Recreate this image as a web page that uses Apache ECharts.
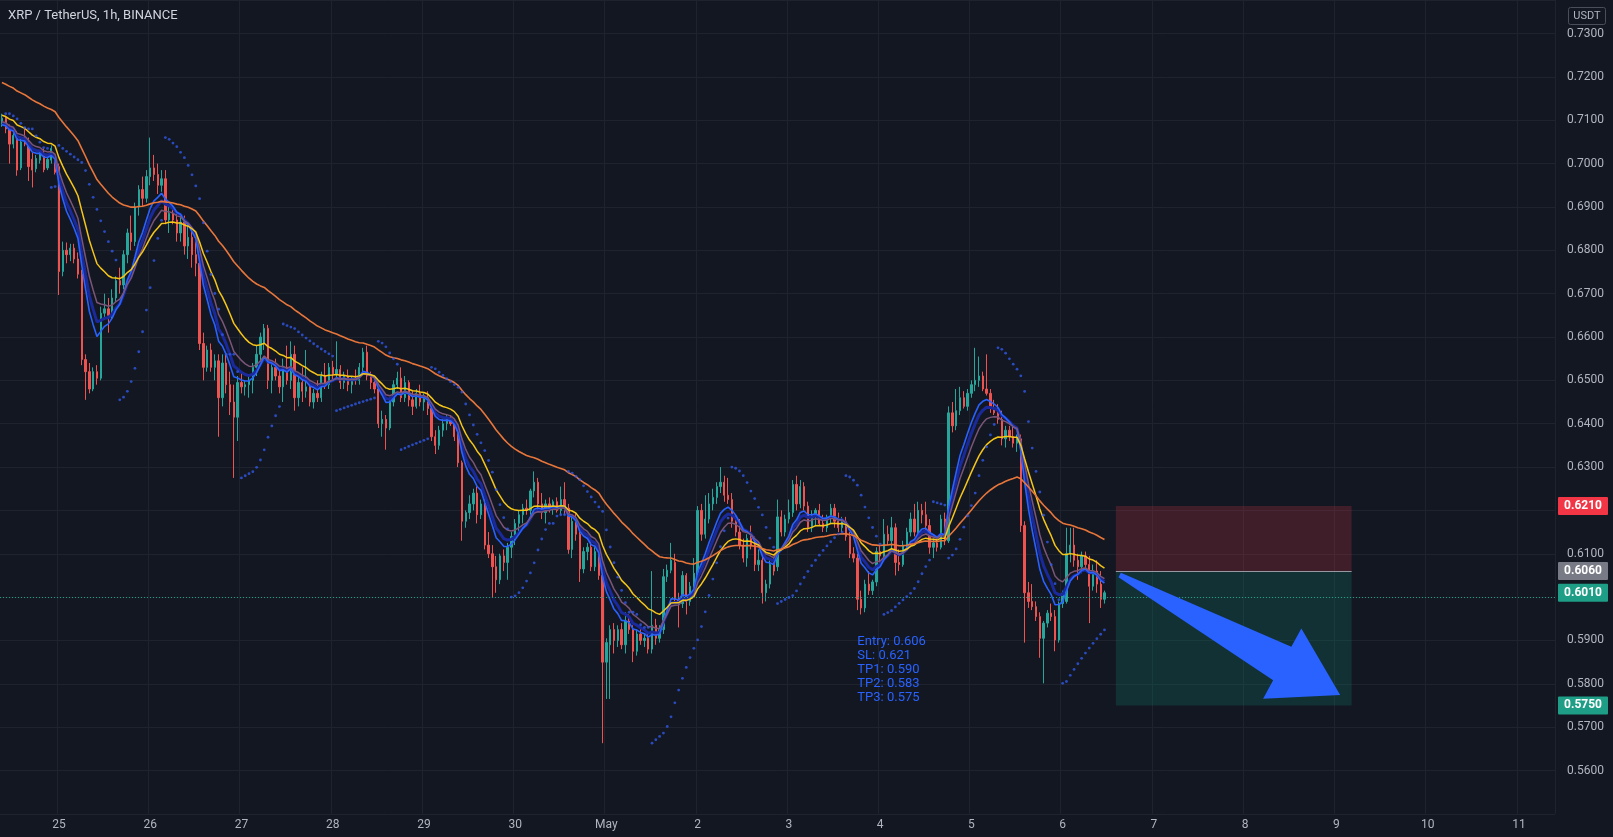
<!DOCTYPE html>
<html><head><meta charset="utf-8">
<script src="https://cdn.jsdelivr.net/npm/echarts@6/dist/echarts.min.js"></script>
<style>html,body{margin:0;padding:0;background:#131722;overflow:hidden}#c{width:1613px;height:837px}</style>
</head><body><div id="c"></div>
<script>
const chartTitle = 'XRP / TetherUS, 1h, BINANCE';
const dayLabels = ['25','26','27','28','29','30','May','2','3','4','5','6','7','8','9','10','11'];
const firstHour = 9;      // first candle: Apr 24, 09:00
const totalSlots = 409;   // hourly slots shown on the time scale
const priceMin = 0.55, priceMax = 0.73774, priceStep = 0.01;
// hourly candles [open, high, low, close]
const apr24 = [
[0.7090,0.7115,0.7085,0.7105],[0.7105,0.7110,0.7070,0.7080],[0.7080,0.7090,0.7000,0.7045],[0.7045,0.7075,0.7035,0.7065],
[0.7065,0.7075,0.6972,0.6985],[0.6990,0.7060,0.6985,0.7050],[0.7055,0.7080,0.7040,0.7045],[0.7045,0.7060,0.6960,0.6993],
[0.7010,0.7025,0.6945,0.6985],[0.6988,0.7020,0.6980,0.7012],[0.7008,0.7030,0.7000,0.7024],[0.7024,0.7035,0.6980,0.6986],
[0.6990,0.7015,0.6985,0.7010],[0.7008,0.7042,0.7000,0.7035],[0.7010,0.7020,0.6975,0.6980]];
const apr25 = [
[0.6993,0.7000,0.6697,0.6751],[0.6751,0.6820,0.6740,0.6800],[0.6800,0.6818,0.6770,0.6790],[0.6790,0.6815,0.6775,0.6805],
[0.6805,0.6815,0.6770,0.6780],[0.6780,0.6795,0.6735,0.6745],[0.6745,0.6755,0.6535,0.6548],[0.6548,0.6560,0.6455,0.6520],
[0.6520,0.6540,0.6470,0.6480],[0.6480,0.6530,0.6475,0.6520],[0.6520,0.6535,0.6490,0.6505],[0.6505,0.6670,0.6500,0.6655],
[0.6655,0.6700,0.6640,0.6665],[0.6665,0.6690,0.6610,0.6650],[0.6650,0.6710,0.6640,0.6690],[0.6690,0.6740,0.6680,0.6730],
[0.6730,0.6760,0.6700,0.6720],[0.6720,0.6800,0.6710,0.6790],[0.6790,0.6850,0.6770,0.6840],[0.6840,0.6880,0.6800,0.6820],
[0.6820,0.6910,0.6810,0.6900],[0.6900,0.6950,0.6880,0.6940],[0.6940,0.6970,0.6900,0.6920],[0.6920,0.6985,0.6910,0.6970]];
const apr26 = [
[0.6970,0.7060,0.6950,0.6990],[0.6990,0.7020,0.6960,0.6975],[0.6975,0.7000,0.6930,0.6950],[0.6950,0.6985,0.6935,0.6965],
[0.6965,0.6985,0.6860,0.6870],[0.6870,0.6900,0.6840,0.6885],[0.6885,0.6905,0.6860,0.6870],[0.6870,0.6890,0.6820,0.6840],
[0.6840,0.6880,0.6820,0.6865],[0.6865,0.6880,0.6790,0.6810],[0.6810,0.6860,0.6780,0.6830],[0.6830,0.6850,0.6760,0.6790],
[0.6790,0.6820,0.6740,0.6770],[0.6770,0.6790,0.6570,0.6585],[0.6585,0.6610,0.6500,0.6530],[0.6530,0.6580,0.6520,0.6570],
[0.6570,0.6585,0.6520,0.6530],[0.6530,0.6560,0.6500,0.6545],[0.6545,0.6560,0.6370,0.6460],[0.6460,0.6560,0.6440,0.6540],
[0.6540,0.6560,0.6470,0.6490],[0.6490,0.6520,0.6420,0.6450],[0.6450,0.6490,0.6275,0.6415],[0.6415,0.6510,0.6360,0.6495]];
const apr27 = [
[0.6495,0.6520,0.6470,0.6485],[0.6485,0.6500,0.6465,0.6490],[0.6490,0.6510,0.6460,0.6500],[0.6500,0.6540,0.6470,0.6530],
[0.6530,0.6580,0.6510,0.6560],[0.6560,0.6610,0.6540,0.6600],[0.6585,0.6630,0.6570,0.6620],[0.6620,0.6628,0.6480,0.6500],
[0.6500,0.6540,0.6470,0.6530],[0.6530,0.6550,0.6500,0.6510],[0.6510,0.6525,0.6470,0.6485],[0.6485,0.6550,0.6450,0.6530],
[0.6530,0.6580,0.6490,0.6500],[0.6500,0.6590,0.6480,0.6560],[0.6560,0.6580,0.6430,0.6460],[0.6460,0.6510,0.6440,0.6495],
[0.6495,0.6530,0.6450,0.6475],[0.6475,0.6570,0.6460,0.6485],[0.6485,0.6495,0.6440,0.6450],[0.6450,0.6480,0.6435,0.6470],
[0.6470,0.6500,0.6450,0.6460],[0.6460,0.6520,0.6450,0.6510],[0.6510,0.6540,0.6480,0.6490],[0.6490,0.6540,0.6480,0.6530]];
const apr28 = [
[0.6530,0.6545,0.6500,0.6515],[0.6515,0.6590,0.6505,0.6525],[0.6525,0.6535,0.6480,0.6495],[0.6495,0.6520,0.6480,0.6510],
[0.6510,0.6525,0.6475,0.6490],[0.6490,0.6510,0.6470,0.6505],[0.6505,0.6525,0.6490,0.6500],[0.6500,0.6540,0.6490,0.6530],
[0.6530,0.6575,0.6510,0.6565],[0.6565,0.6580,0.6500,0.6510],[0.6510,0.6520,0.6480,0.6495],[0.6495,0.6510,0.6470,0.6480],
[0.6480,0.6495,0.6390,0.6400],[0.6400,0.6430,0.6370,0.6410],[0.6410,0.6420,0.6340,0.6390],[0.6390,0.6460,0.6385,0.6450],
[0.6450,0.6500,0.6440,0.6490],[0.6490,0.6520,0.6480,0.6505],[0.6505,0.6530,0.6450,0.6460],[0.6460,0.6510,0.6450,0.6495],
[0.6495,0.6500,0.6440,0.6455],[0.6455,0.6475,0.6420,0.6440],[0.6440,0.6480,0.6435,0.6470],[0.6470,0.6490,0.6440,0.6450]];
const apr29 = [
[0.6450,0.6470,0.6430,0.6460],[0.6460,0.6475,0.6420,0.6435],[0.6435,0.6445,0.6360,0.6370],[0.6370,0.6385,0.6330,0.6350],
[0.6350,0.6395,0.6340,0.6385],[0.6385,0.6410,0.6370,0.6400],[0.6400,0.6420,0.6385,0.6410],[0.6410,0.6420,0.6395,0.6400],
[0.6400,0.6410,0.6360,0.6370],[0.6370,0.6380,0.6300,0.6310],[0.6310,0.6315,0.6130,0.6175],[0.6175,0.6200,0.6160,0.6195],
[0.6195,0.6235,0.6180,0.6215],[0.6215,0.6250,0.6200,0.6240],[0.6240,0.6255,0.6170,0.6190],[0.6190,0.6225,0.6180,0.6215],
[0.6215,0.6225,0.6110,0.6120],[0.6120,0.6150,0.6090,0.6100],[0.6100,0.6120,0.6000,0.6070],[0.6070,0.6095,0.6010,0.6040],
[0.6040,0.6100,0.6030,0.6095],[0.6095,0.6110,0.6060,0.6080],[0.6080,0.6125,0.6040,0.6115],[0.6115,0.6150,0.6090,0.6140]];
const apr30 = [
[0.6140,0.6180,0.6120,0.6170],[0.6170,0.6200,0.6150,0.6190],[0.6190,0.6215,0.6170,0.6205],[0.6205,0.6225,0.6190,0.6200],
[0.6200,0.6250,0.6190,0.6245],[0.6245,0.6290,0.6230,0.6265],[0.6265,0.6275,0.6200,0.6215],[0.6215,0.6240,0.6180,0.6195],
[0.6195,0.6225,0.6170,0.6215],[0.6215,0.6230,0.6195,0.6205],[0.6205,0.6225,0.6190,0.6220],[0.6220,0.6230,0.6195,0.6200],
[0.6200,0.6255,0.6190,0.6225],[0.6225,0.6265,0.6190,0.6205],[0.6205,0.6215,0.6100,0.6110],[0.6110,0.6190,0.6090,0.6175],
[0.6175,0.6195,0.6130,0.6145],[0.6145,0.6155,0.6035,0.6065],[0.6065,0.6115,0.6055,0.6105],[0.6105,0.6125,0.6085,0.6115],
[0.6115,0.6130,0.6060,0.6070],[0.6070,0.6115,0.6060,0.6105],[0.6105,0.6115,0.6040,0.6050],[0.6050,0.6060,0.5663,0.5850]];
const may1 = [
[0.5850,0.5905,0.5765,0.5895],[0.5890,0.5935,0.5765,0.5925],[0.5925,0.5940,0.5870,0.5900],[0.5900,0.5935,0.5885,0.5925],
[0.5925,0.5940,0.5880,0.5890],[0.5890,0.5965,0.5870,0.5945],[0.5945,0.5960,0.5915,0.5925],[0.5925,0.5935,0.5850,0.5875],
[0.5875,0.5925,0.5865,0.5915],[0.5915,0.5930,0.5890,0.5900],[0.5900,0.5915,0.5885,0.5905],[0.5905,0.5915,0.5870,0.5880],
[0.5880,0.6060,0.5870,0.5935],[0.5935,0.5950,0.5890,0.5905],[0.5905,0.5935,0.5895,0.5925],[0.5925,0.6065,0.5915,0.6047],
[0.6047,0.6075,0.6035,0.6062],[0.6062,0.6125,0.6055,0.6085],[0.6080,0.6100,0.5990,0.5995],[0.5995,0.6010,0.5930,0.5985],
[0.5985,0.6060,0.5975,0.6050],[0.6050,0.6055,0.5960,0.5990],[0.5990,0.6035,0.5980,0.6025],[0.6015,0.6090,0.6005,0.6055]];
const may2 = [
[0.6050,0.6210,0.6040,0.6200],[0.6200,0.6215,0.6130,0.6145],[0.6145,0.6235,0.6135,0.6180],[0.6180,0.6240,0.6170,0.6215],
[0.6215,0.6250,0.6200,0.6230],[0.6230,0.6265,0.6215,0.6255],[0.6255,0.6300,0.6240,0.6265],[0.6265,0.6280,0.6220,0.6235],
[0.6235,0.6275,0.6215,0.6225],[0.6225,0.6240,0.6160,0.6175],[0.6175,0.6190,0.6140,0.6150],[0.6150,0.6180,0.6110,0.6120],
[0.6120,0.6135,0.6080,0.6090],[0.6090,0.6145,0.6070,0.6135],[0.6135,0.6165,0.6110,0.6120],[0.6120,0.6140,0.6060,0.6075],
[0.6075,0.6110,0.6060,0.6085],[0.6085,0.6100,0.5985,0.6010],[0.6010,0.6040,0.5990,0.6030],[0.6030,0.6085,0.6020,0.6075],
[0.6075,0.6090,0.6050,0.6060],[0.6070,0.6225,0.6060,0.6185],[0.6185,0.6200,0.6140,0.6150],[0.6150,0.6190,0.6140,0.6180]];
const may3 = [
[0.6180,0.6225,0.6170,0.6195],[0.6195,0.6270,0.6185,0.6260],[0.6260,0.6280,0.6200,0.6215],[0.6215,0.6270,0.6205,0.6255],
[0.6255,0.6265,0.6200,0.6210],[0.6210,0.6220,0.6150,0.6160],[0.6160,0.6200,0.6150,0.6190],[0.6190,0.6205,0.6165,0.6200],
[0.6200,0.6215,0.6165,0.6170],[0.6170,0.6190,0.6150,0.6160],[0.6160,0.6190,0.6150,0.6185],[0.6185,0.6215,0.6170,0.6205],
[0.6205,0.6215,0.6160,0.6175],[0.6175,0.6195,0.6150,0.6160],[0.6160,0.6185,0.6150,0.6175],[0.6175,0.6185,0.6130,0.6140],
[0.6140,0.6150,0.6090,0.6100],[0.6100,0.6115,0.6080,0.6090],[0.6090,0.6100,0.5970,0.5995],[0.5995,0.6015,0.5960,0.5975],
[0.5975,0.6040,0.5965,0.6030],[0.6030,0.6060,0.6005,0.6015],[0.6015,0.6040,0.6005,0.6035],[0.6035,0.6115,0.6025,0.6105]];
const may4 = [
[0.6105,0.6120,0.6080,0.6095],[0.6095,0.6180,0.6085,0.6145],[0.6145,0.6165,0.6120,0.6130],[0.6130,0.6185,0.6110,0.6160],
[0.6160,0.6170,0.6050,0.6080],[0.6080,0.6110,0.6060,0.6075],[0.6075,0.6130,0.6070,0.6120],[0.6120,0.6160,0.6110,0.6150],
[0.6150,0.6195,0.6140,0.6180],[0.6180,0.6215,0.6140,0.6150],[0.6150,0.6220,0.6140,0.6200],[0.6200,0.6215,0.6170,0.6190],
[0.6190,0.6220,0.6150,0.6165],[0.6165,0.6180,0.6100,0.6115],[0.6115,0.6135,0.6090,0.6125],[0.6125,0.6140,0.6105,0.6115],
[0.6115,0.6190,0.6110,0.6180],[0.6180,0.6195,0.6120,0.6130],[0.6130,0.6440,0.6125,0.6425],[0.6425,0.6450,0.6380,0.6395],
[0.6395,0.6480,0.6385,0.6430],[0.6430,0.6485,0.6420,0.6460],[0.6460,0.6475,0.6435,0.6440],[0.6440,0.6480,0.6430,0.6470]];
const may5 = [
[0.6470,0.6500,0.6460,0.6490],[0.6490,0.6575,0.6475,0.6500],[0.6500,0.6555,0.6485,0.6510],[0.6510,0.6520,0.6475,0.6480],
[0.6480,0.6560,0.6465,0.6470],[0.6470,0.6480,0.6425,0.6435],[0.6435,0.6455,0.6420,0.6425],[0.6425,0.6445,0.6400,0.6410],
[0.6410,0.6430,0.6350,0.6365],[0.6365,0.6395,0.6345,0.6385],[0.6385,0.6395,0.6360,0.6370],[0.6370,0.6395,0.6345,0.6355],
[0.6355,0.6375,0.6335,0.6365],[0.6365,0.6375,0.6150,0.6165],[0.6165,0.6175,0.5895,0.6010],[0.6010,0.6035,0.5975,0.5990],
[0.5990,0.6030,0.5970,0.5978],[0.5978,0.5990,0.5945,0.5955],[0.5955,0.5965,0.5860,0.5905],[0.5905,0.5945,0.5801,0.5940],
[0.5940,0.5970,0.5930,0.5963],[0.5963,0.5985,0.5945,0.5955],[0.5955,0.5970,0.5875,0.5901],[0.5901,0.5990,0.5895,0.5985]];
const may6 = [
[0.5985,0.6015,0.5975,0.6009],[0.5990,0.6160,0.5985,0.6100],[0.6100,0.6160,0.6080,0.6120],[0.6120,0.6160,0.6070,0.6085],
[0.6085,0.6100,0.6040,0.6070],[0.6070,0.6105,0.6055,0.6095],[0.6095,0.6105,0.6060,0.6075],[0.6075,0.6095,0.5940,0.6025],
[0.6025,0.6075,0.6015,0.6060],[0.6060,0.6085,0.6010,0.6030],[0.6030,0.6060,0.5975,0.5995],[0.5995,0.6015,0.5985,0.6010]];

const lastPrice = 0.6010;
const tradeEntry = 0.606, tradeStop = 0.621, tradeTarget = 0.575;
const boxStart = 293, boxEnd = 355;           // slot indexes of the position box
const arrowFrom = [294, 0.6051], arrowTo = [352, 0.5774];
const noteLines = ['Entry: 0.606', 'SL: 0.621', 'TP1: 0.590', 'TP2: 0.583', 'TP3: 0.575'];
const noteAnchor = [225, 0.5897];
const emaPeriods = [10, 8, 13, 21, 55];
const emaSeeds   = [0.7090, 0.7085, 0.7095, 0.7112, 0.7190];
const emaColors  = ['#1a2a9c', '#2962ff', '#7a5578', '#f5c518', '#e8763a'];
const emaWidths  = [3, 1.6, 1.5, 1.5, 1.6];
const priceTags = [
  {v: tradeStop, c: '#f23645'}, {v: tradeEntry, c: '#787b86'},
  {v: lastPrice, c: '#1e9e86'}, {v: tradeTarget, c: '#1e9e86'}];

const ohlc = [].concat(apr24, apr25, apr26, apr27, apr28, apr29, apr30, may1, may2, may3, may4, may5, may6);
const n = ohlc.length;
const cats = Array.from({length: totalSlots}, (_, k) => String(k));
const candle = ohlc.map(d => [d[0], d[3], d[2], d[1]]);
const closes = ohlc.map(d => d[3]);
function ema(period, seed) {
  const a = 2 / (period + 1); let v = seed;
  return closes.map(c => { v = a * c + (1 - a) * v; return +v.toFixed(5); });
}
function psar() {
  const hi = ohlc.map(d => d[1]), lo = ohlc.map(d => d[2]);
  const out = [null];
  let bull = false, af = 0.02, ep = lo[0], sar = hi[0];
  for (let i = 1; i < n; i++) {
    sar = sar + af * (ep - sar);
    if (bull) {
      sar = Math.min(sar, lo[i - 1], lo[Math.max(0, i - 2)]);
      if (lo[i] < sar) { bull = false; sar = ep; ep = lo[i]; af = 0.02; }
      else if (hi[i] > ep) { ep = hi[i]; af = Math.min(af + 0.02, 0.2); }
    } else {
      sar = Math.max(sar, hi[i - 1], hi[Math.max(0, i - 2)]);
      if (hi[i] > sar) { bull = true; sar = ep; ep = hi[i]; af = 0.02; }
      else if (lo[i] < ep) { ep = lo[i]; af = Math.min(af + 0.02, 0.2); }
    }
    out.push(+sar.toFixed(5));
  }
  return out;
}
const isMidnight = idx => (firstHour + idx) % 24 === 0;
const FONT = 'Roboto, "Noto Sans", sans-serif';
const GRID = '#1f232e';

const chart = echarts.init(document.getElementById('c'), null, {renderer: 'canvas'});
const series = [{
  type: 'candlestick', data: candle, barWidth: '48%', z: 3,
  itemStyle: {color: '#26a69a', color0: '#ef5350', borderColor: '#26a69a', borderColor0: '#ef5350', borderWidth: 1},
  markLine: {
    silent: true, symbol: 'none', label: {show: false}, animation: false,
    data: [
      {yAxis: lastPrice, lineStyle: {color: '#1e9e86', type: [1, 2], width: 1}},
      [{coord: [String(boxStart), tradeEntry], lineStyle: {color: '#9598a1', type: 'solid', width: 1}},
       {coord: [String(boxEnd), tradeEntry]}]
    ]
  },
  markArea: {
    silent: true,
    data: [
      [{coord: [String(boxStart), tradeStop], itemStyle: {color: 'rgba(242,54,69,0.2)'}}, {coord: [String(boxEnd), tradeEntry]}],
      [{coord: [String(boxStart), tradeEntry], itemStyle: {color: 'rgba(8,153,129,0.2)'}}, {coord: [String(boxEnd), tradeTarget]}]
    ]
  }
}];
emaPeriods.forEach((p, k) => series.push({
  type: 'line', data: ema(p, emaSeeds[k]), showSymbol: false, symbol: 'none', z: 4 + k * 0.01,
  lineStyle: {color: emaColors[k], width: emaWidths[k]}
}));
series.push({type: 'scatter', data: psar(), symbol: 'circle', symbolSize: 2.8, z: 5,
  itemStyle: {color: '#3159e8'}});

chart.setOption({
  animation: false,
  backgroundColor: '#131722',
  grid: {left: 0, right: 58, top: 0, bottom: 23.15, containLabel: false},
  xAxis: {
    type: 'category', data: cats, boundaryGap: true,
    axisLine: {show: false}, axisTick: {show: false},
    axisLabel: {interval: isMidnight, color: '#b2b5be', fontSize: 12, fontFamily: FONT, margin: 5,
      formatter: (v) => { const d = Math.floor((firstHour + Number(v)) / 24) - 1; return dayLabels[d] || ''; }},
    splitLine: {show: true, interval: isMidnight, lineStyle: {color: GRID, width: 1}}
  },
  yAxis: {
    type: 'value', position: 'right', min: priceMin, max: priceMax, interval: priceStep,
    axisLine: {show: false}, axisTick: {show: false},
    axisLabel: {color: '#b2b5be', fontSize: 12, fontFamily: FONT, margin: 12, showMinLabel: false, showMaxLabel: false,
      formatter: v => v.toFixed(4)},
    splitLine: {show: true, lineStyle: {color: GRID, width: 1}}
  },
  series
});

// overlays placed through the chart's own scales
const px = (i, v) => chart.convertToPixel({gridIndex: 0}, [String(i), v]);
const g = [];
g.push({type: 'text', left: 8, top: 9, z: 20,
  style: {text: chartTitle, fill: '#d1d4dc', font: '13px ' + FONT}});
g.push({type: 'rect', shape: {x: 1568.5, y: 7.5, width: 37, height: 17, r: 2}, z: 20,
  style: {fill: 'transparent', stroke: '#4a4e5a', lineWidth: 1}});
g.push({type: 'text', z: 21, style: {x: 1587, y: 16, text: 'USDT', fill: '#b2b5be', font: '11px ' + FONT, align: 'center', verticalAlign: 'middle'}});
priceTags.forEach(t => {
  const y = px(0, t.v)[1];
  g.push({type: 'rect', shape: {x: 1558, y: y - 9, width: 50, height: 18, r: 1}, z: 20, style: {fill: t.c}});
  g.push({type: 'text', z: 21, style: {x: 1583, y: y, text: t.v.toFixed(4), fill: '#ffffff',
    font: 'bold 12px ' + FONT, align: 'center', verticalAlign: 'middle'}});
});
// arrow
const S = px(arrowFrom[0], arrowFrom[1]), T = px(arrowTo[0], arrowTo[1]);
const dx = T[0] - S[0], dy = T[1] - S[1], L = Math.hypot(dx, dy);
const ux = dx / L, uy = dy / L, nx = -uy, ny = ux;
const headLen = 66, headHalf = 40, w0 = 2.5, w1 = 19;
const B = [T[0] - ux * headLen, T[1] - uy * headLen];
g.push({type: 'polygon', z: 15, shape: {points: [
  [S[0] + nx * w0, S[1] + ny * w0], [B[0] + nx * w1, B[1] + ny * w1], [B[0] + nx * headHalf, B[1] + ny * headHalf],
  [T[0], T[1]], [B[0] - nx * headHalf, B[1] - ny * headHalf], [B[0] - nx * w1, B[1] - ny * w1],
  [S[0] - nx * w0, S[1] - ny * w0]]}, style: {fill: '#2962ff'}});
// note text
const NA = px(noteAnchor[0], noteAnchor[1]);
noteLines.forEach((t, k) => g.push({type: 'text', z: 20,
  style: {x: NA[0], y: NA[1] + k * 14, text: t, fill: '#2962ff', font: '13px ' + FONT, align: 'left', verticalAlign: 'middle'}}));
chart.setOption({graphic: g});
</script>
</body></html>
